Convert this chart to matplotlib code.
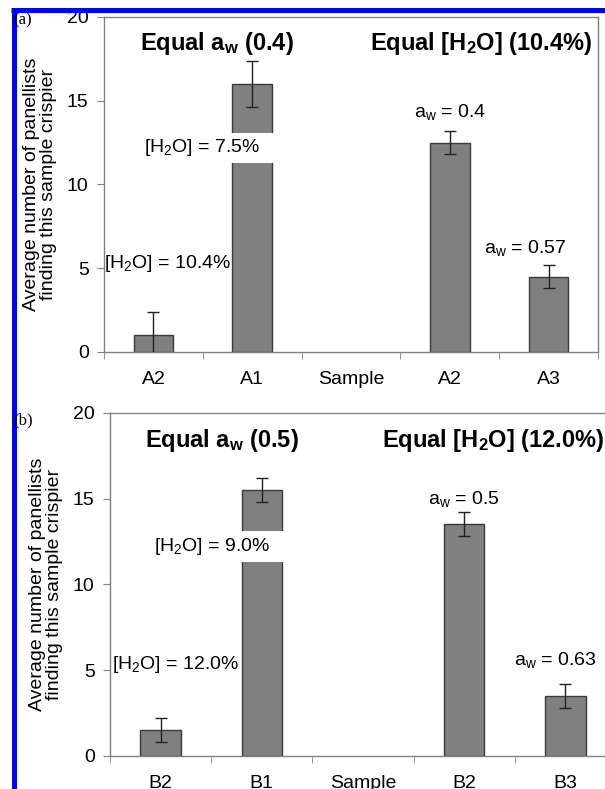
import numpy as np
import matplotlib
matplotlib.use("Agg")
import matplotlib.pyplot as plt
from matplotlib.lines import Line2D
from matplotlib.patches import Rectangle

plt.rcParams['font.family'] = ['Liberation Sans', 'DejaVu Sans']
plt.rcParams['mathtext.default'] = 'regular'

# panel a
cats_a = ['A2', 'A1', 'Sample', 'A2', 'A3']
vals_a = [1.0, 16.0, np.nan, 12.5, 4.5]
errs_a = [1.4, 1.4, 0.0, 0.7, 0.7]
titles_a = ['Equal a$_w$ (0.4)', 'Equal [H$_2$O] (10.4%)']
notes_a = ['[H$_2$O] = 10.4%', '[H$_2$O] = 7.5%', '', 'a$_w$ = 0.4', 'a$_w$ = 0.57']

# panel b
cats_b = ['B2', 'B1', 'Sample', 'B2', 'B3']
vals_b = [1.5, 15.5, np.nan, 13.5, 3.5]
errs_b = [0.7, 0.7, 0.0, 0.7, 0.7]
titles_b = ['Equal a$_w$ (0.5)', 'Equal [H$_2$O] (12.0%)']
notes_b = ['[H$_2$O] = 12.0%', '[H$_2$O] = 9.0%', '', 'a$_w$ = 0.5', 'a$_w$ = 0.63']

# label anchors (x offset from bar centre, y in data units)
note_pos_a = [(0.14, 5.3), (-0.51, 12.2), (0, 0), (0.0, 14.3), (-0.24, 6.2)]
note_pos_b = [(0.15, 5.3), (-0.49, 12.2), (0, 0), (0.0, 15.0), (-0.1, 5.6)]
title_x_a = [0.64, 3.32]
title_x_b = [0.61, 3.29]

GREY = '#808080'
FS = 14


def draw_panel(ax, cats, vals, errs, titles, title_x, notes, npos):
    x = np.arange(len(cats))
    ax.bar(x, vals, width=0.4, color=GREY, edgecolor='#3a3a3a', linewidth=1.0, zorder=2)
    ax.errorbar(x, vals, yerr=errs, fmt='none', ecolor='#222222', elinewidth=1.0,
                capsize=4, capthick=1.0, zorder=4)

    # white gap where the label crosses the tall bar
    i = 1
    ax.add_patch(Rectangle((x[i] - 0.3, npos[i][1] - 0.9), 0.6, 1.8,
                           facecolor='white', edgecolor='none', zorder=3))

    for j, txt in enumerate(notes):
        if not txt:
            continue
        ax.text(x[j] + npos[j][0], npos[j][1], txt, ha='center', va='center',
                fontsize=FS, zorder=5)

    for tx, tt in zip(title_x, titles):
        ax.text(tx, 18.4, tt, ha='center', va='center', fontsize=17, fontweight='bold')

    ax.set_xlim(-0.5, len(cats) - 0.5)
    ax.set_ylim(0, 20)
    ax.set_yticks([0, 5, 10, 15, 20])
    ax.set_xticks(x)
    ax.set_xticklabels(cats)
    ax.set_xticks(np.arange(len(cats) + 1) - 0.5, minor=True)
    ax.tick_params(axis='x', which='major', length=0, pad=14, labelsize=FS)
    ax.tick_params(axis='x', which='minor', length=5, color=GREY, direction='out')
    ax.tick_params(axis='y', length=5, color=GREY, pad=6, labelsize=FS)
    for s in ax.spines.values():
        s.set_color(GREY)
        s.set_linewidth(1.0)
    ax.set_ylabel('Average number of panellists\nfinding this sample crispier',
                  fontsize=FS, labelpad=7, linespacing=1.05)


fig = plt.figure(figsize=(6.05, 7.89), dpi=100)
W, H = 605, 789

ax_a = fig.add_axes([104 / W, 1 - 352 / H, 494 / W, 335 / H])
ax_b = fig.add_axes([110 / W, 1 - 755.7 / H, 506 / W, 342.7 / H])

draw_panel(ax_a, cats_a, vals_a, errs_a, titles_a, title_x_a, notes_a, note_pos_a)
draw_panel(ax_b, cats_b, vals_b, errs_b, titles_b, title_x_b, notes_b, note_pos_b)

fig.text(13 / W, 1 - 20 / H, '(a)', family='Liberation Serif', fontsize=12, va='center')
fig.text(13 / W, 1 - 420 / H, '(b)', family='Liberation Serif', fontsize=12, va='center')

# blue frame
fig.add_artist(Line2D([14 / W, 14 / W], [0, 1 - 7.5 / H], color='#0000ff', linewidth=3.6,
                      transform=fig.transFigure, solid_capstyle='butt'))
fig.add_artist(Line2D([11.5 / W, 1], [1 - 9.8 / H, 1 - 9.8 / H], color='#0000ff', linewidth=3.6,
                      transform=fig.transFigure, solid_capstyle='butt'))

fig.savefig('out.png', dpi=100)
